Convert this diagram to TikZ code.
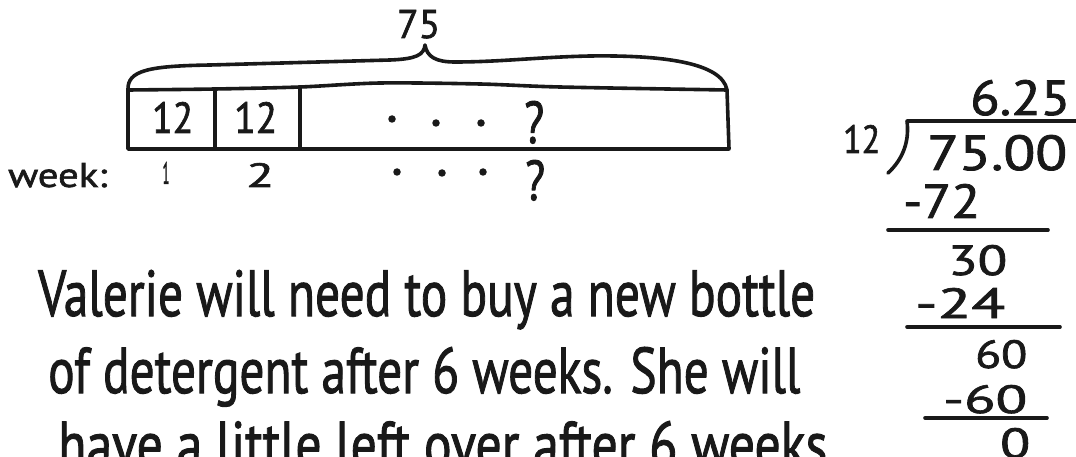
\documentclass[tikz,border=0pt]{standalone}
\usepackage{fontspec}
\setmainfont{PT Sans}[FakeBold=1.6]
\usepackage{graphicx}
\newcommand{\fitwh}[3]{\resizebox{#1pt}{#2pt}{#3}}
\newcommand{\fith}[2]{\resizebox{!}{#1pt}{#2}}
\begin{document}
\begin{tikzpicture}[x=1pt,y=-1pt,
  ink/.style={draw=black!90,line width=3.6pt,line cap=round,line join=round},
  lbl/.style={inner sep=0pt,anchor=base west,text=black!90},
  lblc/.style={inner sep=0pt,anchor=base,text=black!90},
  dotn/.style={circle,fill=black!90,inner sep=0pt,minimum size=7.5pt}]
\useasboundingbox (0,0) rectangle (1076,457);
% ---------- tape diagram ----------
\node[lbl] (total) at (397,38) {\fitwh{43}{28}{75}};
\draw[ink] (128,90) .. controls (127,70) and (150,66) .. (210,65)
  -- (390,60) .. controls (416,59) and (424,55) .. (425,45)
  .. controls (427,57) and (436,62) .. (455,62)
  .. controls (500,62) and (540,57) .. (590,56)
  .. controls (660,55) and (722,62) .. (727,90);
\draw[ink] plot[smooth,tension=0.5] coordinates {(128,90) (215,89) (300,87) (380,83) (480,84) (560,87) (727,90)};
\draw[ink] (128,90) -- (128,149) -- (729,149) -- (727,90);
\draw[ink] (215,89) -- (215,149);
\draw[ink] (300,87) -- (300,149);
\node[lbl] (c1) at (152,133) {\fitwh{41}{31}{12}};
\node[lbl] (c2) at (234,133) {\fitwh{43}{31}{12}};
\node[dotn] (d1) at (392,119) {};
\node[dotn] (d2) at (436,123) {};
\node[dotn] (d3) at (481,123) {};
\node[lbl] (q1) at (524,143) {\fitwh{20}{42}{?}};
% week row
\node[lbl] (week) at (8,187) {\fitwh{99}{24}{week:}};
\node[lblc] (w1) at (166,184) {\fitwh{7}{22}{1}};
\node[lbl] (w2) at (246,187) {\fitwh{28}{24}{2}};
\node[dotn] (e1) at (397,172) {};
\node[dotn] (e2) at (442,173) {};
\node[dotn] (e3) at (483,172) {};
\node[lbl] (q2) at (525,200) {\fitwh{20}{40}{?}};
% ---------- sentence ----------
\node[lbl] (s1) at (38,316) {\fitwh{777}{46}{Valerie will need to buy a new bottle}};
\node[lbl] (s2) at (48,393) {\fitwh{752}{46}{of detergent after 6 weeks. She will}};
\node[lbl] (s3) at (58,467) {\fitwh{780}{46}{have a little left over after 6 weeks.}};
% ---------- long division ----------
\node[lbl] (quot) at (970,115) {\fitwh{100}{35}{6.25}};
\draw[ink] (1076,121) -- (907,121) .. controls (910,145) and (900,162) .. (888,173);
\node[lbl] (dvs) at (843,153) {\fitwh{37}{28}{12}};
\node[lbl] (dvd) at (927,170) {\fitwh{140}{35}{75.00}};
\node[lbl] (m1) at (903,218) {\fitwh{77}{34}{-72}};
\draw[ink] (888,230) -- (1048,230);
\node[lbl] (r1) at (948,275) {\fitwh{59}{30}{30}};
\node[lbl] (m2) at (915,318) {\fitwh{90}{30}{-24}};
\draw[ink] (907,327) -- (1060,327);
\node[lbl] (r2) at (975,368) {\fitwh{52}{28}{60}};
\node[lbl] (m3) at (943,413) {\fitwh{84}{28}{-60}};
\draw[ink] (925,418) -- (1047,418);
\node[lbl] (r3) at (1000,458) {\fitwh{30}{30}{0}};
\end{tikzpicture}
\end{document}
